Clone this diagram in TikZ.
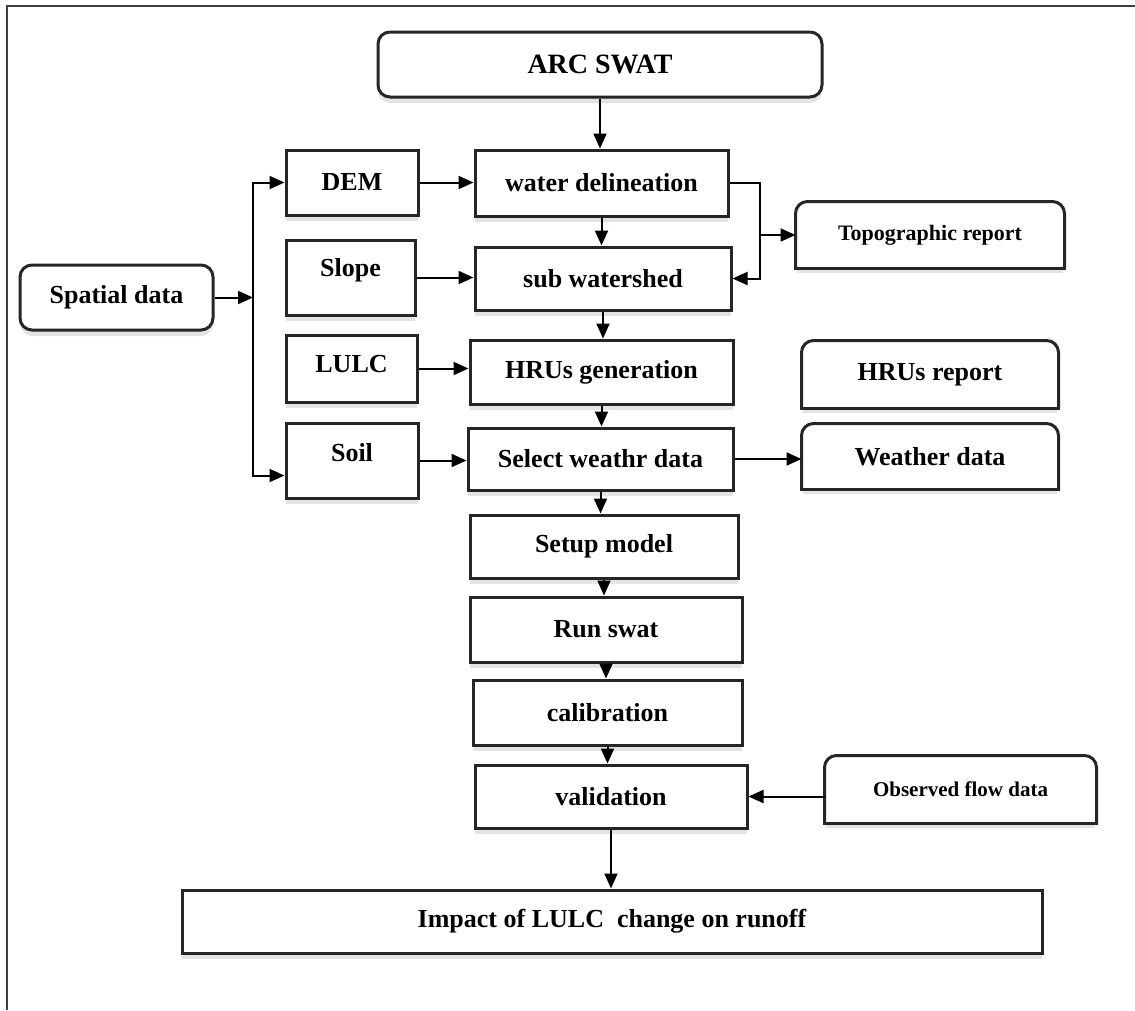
\documentclass[tikz,border=0pt]{standalone}
\usepackage{fontspec}
\setmainfont{Liberation Serif}
\usetikzlibrary{arrows.meta,shadows}

\tikzset{
  box/.style={draw=black!85, line width=3pt, fill=white, inner sep=2pt,
    font=\bfseries\fontsize{26}{30}\selectfont,
    drop shadow={shadow xshift=0pt, shadow yshift=-6pt, opacity=.22}},
  rbox/.style={box, rounded corners=12pt},
  tabbox/.style={box, draw=none},
  tabline/.style={draw=black!85, line width=3pt},
  arr/.style={-{Triangle[length=15pt,width=13pt]}, line width=2pt},
}

\begin{document}
\begin{tikzpicture}[x=1pt,y=-1pt]
  \useasboundingbox (0,0) rectangle (1135,1010);
  \draw[line width=1.5pt, black!75] (1135,6) -| (7,1010);

  % main column
  \node[rbox, minimum width=444pt, minimum height=65pt, font=\bfseries\fontsize{28}{32}\selectfont] (arc) at (600,64.5) {ARC SWAT};
  \node[box, minimum width=253pt, minimum height=66pt] (wdel) at (601.5,183) {water delineation};
  \node[box, minimum width=256pt, minimum height=63pt] (sub) at (603,278.5) {sub watershed};
  \node[box, minimum width=263pt, minimum height=64pt] (hrus) at (601.5,372) {HRUs generation};
  \node[box, minimum width=265pt, minimum height=62pt] (sel) at (600.5,459) {Select weathr data};
  \node[box, minimum width=268pt, minimum height=63pt] (setup) at (604,546.5) {Setup model};
  \node[box, minimum width=272pt, minimum height=65pt] (run) at (606,629.5) {Run swat};
  \node[box, minimum width=269pt, minimum height=65pt] (cal) at (607.5,712.5) {calibration};
  \node[box, minimum width=272pt, minimum height=63pt] (val) at (611,796.5) {validation};
  \node[box, minimum width=860pt, minimum height=63pt] (impact) at (612,921.5) {Impact of LULC\ \ change on runoff};

  % inputs
  \node[rbox, minimum width=193pt, minimum height=65pt] (spatial) at (116.5,297.5) {Spatial data};
  \node[box, minimum width=132pt, minimum height=65pt] (dem) at (352,182.5) {DEM};
  \node[box, minimum width=129pt, minimum height=75pt, text depth=20pt] (slope) at (350.5,277.5) {Slope};
  \node[box, minimum width=131pt, minimum height=67pt, text depth=10pt] (lulc) at (351.5,368.5) {LULC};
  \node[box, minimum width=132pt, minimum height=75pt, text depth=16pt] (soil) at (352,460.5) {Soil};

  % reports
  \node[tabbox, minimum width=266pt, minimum height=64pt, font=\bfseries\fontsize{22}{26}\selectfont] (topo) at (930,235) {Topographic report};
  \node[tabbox, minimum width=254pt, minimum height=65pt] (hrurep) at (930,374.5) {HRUs report};
  \node[tabbox, minimum width=254pt, minimum height=63pt] (weather) at (930,456.5) {Weather data};
  \node[tabbox, minimum width=269pt, minimum height=65pt, font=\bfseries\fontsize{21}{25}\selectfont] (obs) at (960.5,789.5) {Observed flow data};
  \foreach \n in {topo,hrurep,weather,obs}{
    \draw[tabline, rounded corners=12pt] (\n.south west) -- (\n.north west) -- (\n.north east) -- (\n.south east);
    \draw[tabline, line cap=rect] (\n.south west) -- (\n.south east);
  }

  \coordinate (split) at (253,297.5);
  \coordinate (tj) at (760,235);

  % connectors
  \foreach \a/\b in {arc/wdel,wdel/sub,sub/hrus,hrus/sel,sel/setup,setup/run,run/cal,cal/val,val/impact}
    \draw[arr] (\a.south) -- (\a.south |- \b.north);
  \draw[arr] (spatial) -- (split);
  \draw[arr] (split) |- (dem.west);
  \draw[arr] (split) |- ([yshift=-15pt]soil.west);
  \draw[arr] (dem.east) -- (dem.east -| wdel.west);
  \draw[arr] (slope.east) -- (slope.east -| sub.west);
  \draw[arr] (lulc.east) -- (lulc.east -| hrus.west);
  \draw[arr] (soil.east) -- (soil.east -| sel.west);
  \draw[arr] (wdel.east) -- (wdel.east -| tj) |- (sub.east);
  \draw[arr] (tj) -- (topo.west);
  \draw[arr] (sel.east) -- (sel.east -| weather.west);
  \draw[arr] (val.east -| obs.west) -- (val.east);
\end{tikzpicture}
\end{document}
